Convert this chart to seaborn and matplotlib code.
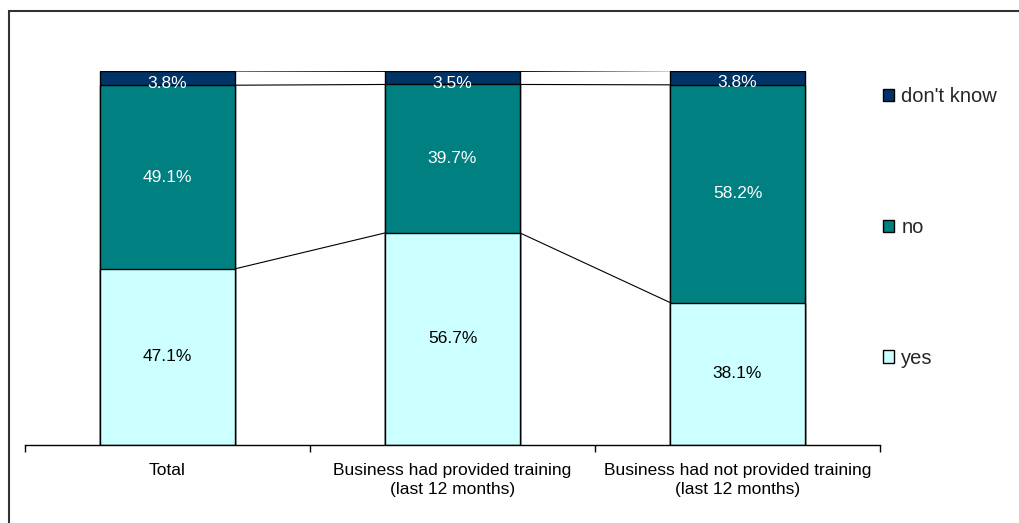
import matplotlib
matplotlib.use("Agg")
import matplotlib.pyplot as plt
from matplotlib.patches import Rectangle
from matplotlib.ticker import FixedLocator
import seaborn as sns
import pandas as pd
import numpy as np

sns.set_theme(style="white")
plt.rcParams["font.family"] = ["Liberation Sans", "DejaVu Sans"]

categories = ["Total",
              "Business had provided training\n(last 12 months)",
              "Business had not provided training\n(last 12 months)"]
yes_vals = [47.1, 56.7, 38.1]
no_vals = [49.1, 39.7, 58.2]
dk_vals = [3.8, 3.5, 3.8]

series_names = ["yes", "no", "don't know"]
colors = {"yes": "#CCFFFF", "no": "#008080", "don't know": "#003366"}
text_colors = {"yes": "black", "no": "white", "don't know": "white"}
# thin top segment: its label sits a little below the segment middle
label_shift = {"yes": 0.0, "no": 0.0, "don't know": -1.4}

W, H = 1019, 523
fig = plt.figure(figsize=(W / 100, H / 100), dpi=100)
ax = fig.add_axes([25 / W, 78 / H, 855 / W, 374 / H])

# cumulative stack tops
vals = {"yes": np.array(yes_vals), "no": np.array(no_vals), "don't know": np.array(dk_vals)}
cum = {}
running = np.zeros(len(categories))
for s in series_names:
    running = running + vals[s]
    cum[s] = running.copy()

bar_w = 135 / 285
# draw from tallest stack down so lower segments overlay
for s in reversed(series_names):
    df = pd.DataFrame({"cat": categories, "top": cum[s]})
    sns.barplot(data=df, x="cat", y="top", color=colors[s], saturation=1,
                width=bar_w, edgecolor="black", linewidth=1.0, ax=ax, zorder=2)

# series lines joining stack tops between bars
for s in series_names:
    for i in range(len(categories) - 1):
        ax.plot([i + bar_w / 2, i + 1 - bar_w / 2], [cum[s][i], cum[s][i + 1]],
                color="black", linewidth=0.8, zorder=1)

# value labels
bottoms = np.zeros(len(categories))
for s in series_names:
    for i in range(len(categories)):
        ax.text(i, bottoms[i] + vals[s][i] / 2 + label_shift[s], f"{vals[s][i]:.1f}%",
                ha="center", va="center", fontsize=12.5, color=text_colors[s], zorder=5)
    bottoms = bottoms + vals[s]

ax.set_xlim(-0.5, len(categories) - 0.5)
ax.set_ylim(0, 100)
ax.set_xlabel("")
ax.set_ylabel("")
ax.set_yticks([])
for sp in ["top", "right", "left"]:
    ax.spines[sp].set_visible(False)
ax.spines["bottom"].set_color("black")
ax.spines["bottom"].set_linewidth(1.0)
ax.tick_params(axis="x", which="major", length=0, pad=13, labelsize=12.5, labelcolor="black")
for lbl in ax.get_xticklabels():
    lbl.set_linespacing(1.3)
ax.xaxis.set_minor_locator(FixedLocator(np.arange(-0.5, len(categories), 1.0)))
ax.tick_params(axis="x", which="minor", length=5, width=1.0, color="black", direction="out", bottom=True)

# legend
handles = [Rectangle((0, 0), 1, 1, facecolor=colors[s], edgecolor="black", linewidth=1.0)
           for s in reversed(series_names)]
leg = fig.legend(handles, list(reversed(series_names)), loc="upper left",
                 bbox_to_anchor=(873 / W, (H - 77) / H), frameon=False,
                 fontsize=14.5, handlelength=0.55, handleheight=0.55, handletextpad=0.35,
                 labelspacing=5.55, borderpad=0)

# outer frame
fig.patches.append(Rectangle((9 / W, -0.1), 1.2, (H - 11) / H + 0.1, transform=fig.transFigure,
                             fill=False, edgecolor="#333333", linewidth=1.5))

fig.savefig("out.png", dpi=100)
